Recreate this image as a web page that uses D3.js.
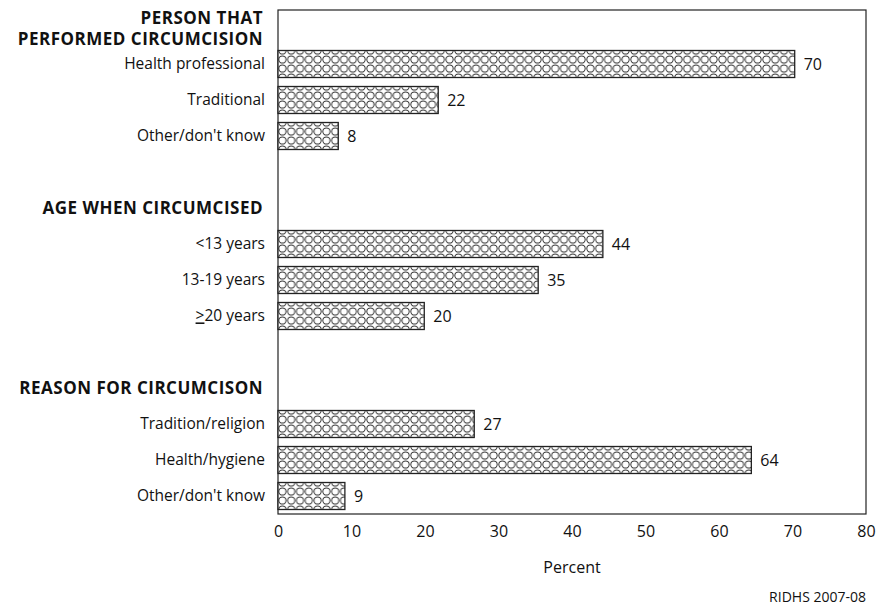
<!DOCTYPE html>
<html>
<head>
<meta charset="utf-8">
<script src="https://cdn.jsdelivr.net/npm/d3@7"></script>
<style>
  body { margin: 0; background: #fff; }
  svg text { font-family: "Open Sans", sans-serif; fill: #111; }
</style>
</head>
<body>
<div id="chart"></div>
<script>
// row slots top to bottom (unique keys): headers, bars and blank spacers
const rowKeys = ["h1", "b1", "b2", "b3", "gap1", "h2", "b4", "b5", "b6", "gap2", "h3", "b7", "b8", "b9"];
const headerKeys = ["h1", "h2", "h3"];
const headerText = ["PERSON THAT|PERFORMED CIRCUMCISION", "AGE WHEN CIRCUMCISED", "REASON FOR CIRCUMCISON"];
const barKeys = ["b1", "b2", "b3", "b4", "b5", "b6", "b7", "b8", "b9"];
const barLabels = ["Health professional", "Traditional", "Other/don't know", "<13 years", "13-19 years", ">20 years",
  "Tradition/religion", "Health/hygiene", "Other/don't know"];
const barValues = [70.3, 21.8, 8.2, 44.2, 35.4, 19.9, 26.7, 64.4, 9.1];
const xTicks = [0, 10, 20, 30, 40, 50, 60, 70, 80];

const w = 879, h = 606;
const padL = 278, padR = 866, padT = 10, padB = 514;

const svg = d3.select("#chart").append("svg").attr("width", w).attr("height", h);

// dotted fill
const pat = svg.append("defs").append("pattern")
  .attr("id", "dots").attr("patternUnits", "userSpaceOnUse")
  .attr("width", 8.8).attr("height", 9).attr("x", padL).attr("y", 1);
pat.append("rect").attr("width", 8.8).attr("height", 9).attr("fill", "#fff");
pat.append("circle").attr("cx", 4.4).attr("cy", 4.5).attr("r", 3.6)
  .attr("fill", "none").attr("stroke", "#333").attr("stroke-width", 1);

const x = d3.scaleLinear().domain([0, 80]).range([padL, padR]);
const y = d3.scaleBand().domain(rowKeys).range([padT, padB]).paddingInner(0.25).paddingOuter(0.125);

// frame
svg.append("rect")
  .attr("x", padL).attr("y", padT).attr("width", padR - padL).attr("height", padB - padT)
  .attr("fill", "none").attr("stroke", "#222").attr("stroke-width", 1.2);

// bars
svg.selectAll("rect.bar").data(barValues).enter().append("rect")
  .attr("class", "bar")
  .attr("x", x(0))
  .attr("y", (d, i) => y(barKeys[i]))
  .attr("width", d => x(d) - x(0))
  .attr("height", y.bandwidth())
  .attr("fill", "url(#dots)")
  .attr("stroke", "#222").attr("stroke-width", 1.3);

// value labels
svg.selectAll("text.val").data(barValues).enter().append("text")
  .attr("class", "val")
  .attr("x", d => x(d) + 9)
  .attr("y", (d, i) => y(barKeys[i]) + y.bandwidth() / 2)
  .attr("dy", "0.35em")
  .style("font-size", "16px")
  .text(d => d3.format(".0f")(d));

// category labels
svg.selectAll("text.cat").data(barLabels).enter().append("text")
  .attr("class", "cat")
  .attr("x", 265)
  .attr("y", (d, i) => y(barKeys[i]) + y.bandwidth() / 2)
  .attr("dy", "0.35em")
  .attr("text-anchor", "end")
  .style("font-size", "15.5px")
  .each(function (d) {
    const t = d3.select(this);
    if (d.startsWith(">")) {
      t.append("tspan").style("text-decoration", "underline").text(">");
      t.append("tspan").text(d.slice(1));
    } else {
      t.text(d);
    }
  });

// group headers
svg.selectAll("text.head").data(headerText).enter().append("text")
  .attr("class", "head")
  .attr("text-anchor", "end")
  .attr("x", 263)
  .attr("y", (d, i) => y(headerKeys[i]) + y.bandwidth() / 2)
  .style("font-size", "17px").style("font-weight", "700").style("letter-spacing", "0.5px")
  .each(function (d) {
    const lines = d.split("|");
    const t = d3.select(this);
    lines.forEach((s, i) => {
      t.append("tspan").attr("x", 263)
        .attr("dy", i === 0 ? (0.35 - (lines.length - 1) * 0.6) + "em" : "1.25em")
        .text(s);
    });
  });

// x axis without ticks
const ax = svg.append("g")
  .attr("transform", "translate(0," + padB + ")")
  .call(d3.axisBottom(x).tickValues(xTicks).tickSize(0).tickPadding(12));
ax.select(".domain").remove();
ax.selectAll("text").style("font-size", "16px").style("font-family", "'Open Sans', sans-serif").attr("fill", "#111");

svg.append("text")
  .attr("x", (padL + padR) / 2).attr("y", 573)
  .attr("text-anchor", "middle").style("font-size", "16px")
  .text("Percent");

svg.append("text")
  .attr("x", padR).attr("y", 602)
  .attr("text-anchor", "end").style("font-size", "14px")
  .text("RIDHS 2007-08");
</script>
</body>
</html>
